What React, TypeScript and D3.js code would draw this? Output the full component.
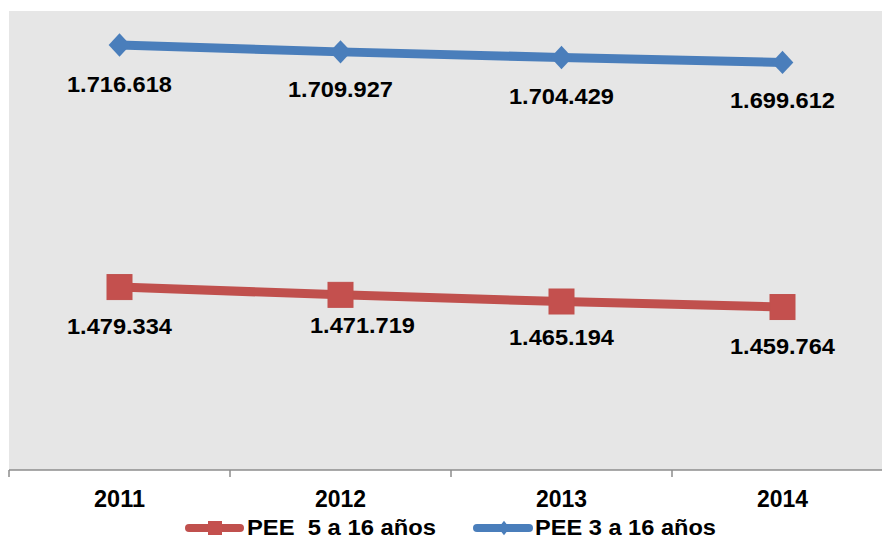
import React from "react";
import * as d3 from "d3";

const years = ["2011", "2012", "2013", "2014"];
const pee5a16 = [1479334, 1471719, 1465194, 1459764];
const pee3a16 = [1716618, 1709927, 1704429, 1699612];
const labels5a16 = ["1.479.334", "1.471.719", "1.465.194", "1.459.764"];
const labels3a16 = ["1.716.618", "1.709.927", "1.704.429", "1.699.612"];
const seriesNames = ["PEE  5 a 16 años", "PEE 3 a 16 años"];

const W = 882;
const H = 540;
const RED = "#C0504D";
const BLUE = "#4A7EBB";

export default function App() {
  const x = d3.scaleBand<string>().domain(years).range([9, 893]);
  const y = d3.scaleLinear().domain([1300000, 1750000]).range([470, 11]);
  const cx = (c: string) => (x(c) as number) + x.bandwidth() / 2;

  const line = d3
    .line<number>()
    .x((_, i) => cx(years[i]))
    .y((d) => y(d));

  // label nudges (Excel manual placement for one label)
  const redNudge = [
    [0, 47],
    [22, 38],
    [0, 43],
    [0, 47],
  ];
  const blueNudge = [
    [0, 47],
    [0, 45],
    [0, 47],
    [0, 46],
  ];

  const diamond = d3.symbol().type(d3.symbolDiamond2).size(300);
  const font = "'Liberation Sans', Arial, sans-serif";

  const ticks = [...years.map((c) => x(c) as number), 893];

  return (
    <svg
      width={W}
      height={H}
      style={{ position: "absolute", left: 0, top: 0 }}
      fontFamily={font}
    >
      <rect x={0} y={0} width={W} height={H} fill="#fff" />
      <rect x={9} y={11} width={893 - 9} height={470 - 11} fill="#E6E6E6" />

      {/* axis */}
      <line x1={9} x2={893} y1={470} y2={470} stroke="#8C8C8C" strokeWidth={1.5} />
      {ticks.map((t, i) => (
        <line key={i} x1={t} x2={t} y1={470} y2={477} stroke="#8C8C8C" strokeWidth={1.5} />
      ))}
      {years.map((c) => (
        <text
          key={c}
          x={cx(c)}
          y={507}
          textAnchor="middle"
          fontSize={23}
          fontWeight="bold"
          textLength={51}
          lengthAdjust="spacingAndGlyphs"
          fill="#000"
        >
          {c}
        </text>
      ))}

      {/* red series */}
      <path d={line(pee5a16) || ""} fill="none" stroke={RED} strokeWidth={9} />
      {pee5a16.map((v, i) => (
        <rect
          key={i}
          x={cx(years[i]) - 12.5}
          y={y(v) - 12.5}
          width={25}
          height={25}
          fill="#C4504E"
          stroke="#C0504D"
          strokeWidth={1}
        />
      ))}
      {/* blue series */}
      <path d={line(pee3a16) || ""} fill="none" stroke={BLUE} strokeWidth={9} />
      {pee3a16.map((v, i) => (
        <path
          key={i}
          d={diamond() || ""}
          transform={`translate(${cx(years[i])},${y(v)}) scale(1,1.08)`}
          fill={BLUE}
        />
      ))}

      {/* data labels */}
      {pee5a16.map((v, i) => (
        <text
          key={"r" + i}
          x={cx(years[i]) + redNudge[i][0]}
          y={y(v) + redNudge[i][1]}
          textAnchor="middle"
          fontSize={22.5}
          fontWeight="bold"
          textLength={105}
          lengthAdjust="spacingAndGlyphs"
          fill="#000"
        >
          {labels5a16[i]}
        </text>
      ))}
      {pee3a16.map((v, i) => (
        <text
          key={"b" + i}
          x={cx(years[i]) + blueNudge[i][0]}
          y={y(v) + blueNudge[i][1]}
          textAnchor="middle"
          fontSize={22.5}
          fontWeight="bold"
          textLength={105}
          lengthAdjust="spacingAndGlyphs"
          fill="#000"
        >
          {labels3a16[i]}
        </text>
      ))}

      {/* legend */}
      <g>
        <line x1={189} x2={240} y1={528} y2={528} stroke={RED} strokeWidth={8} strokeLinecap="round" />
        <rect x={208} y={521} width={14} height={14} fill="#C4504E" />
        <text
          x={247}
          y={535}
          fontSize={22}
          fontWeight="bold"
          textLength={189}
          lengthAdjust="spacingAndGlyphs"
          xmlSpace="preserve"
          style={{ whiteSpace: "pre" }}
        >
          {seriesNames[0]}
        </text>
        <line x1={477} x2={529} y1={528} y2={528} stroke={BLUE} strokeWidth={8} strokeLinecap="round" />
        <path d={d3.symbol().type(d3.symbolDiamond2).size(80)() || ""} transform="translate(504,528) scale(1,1.3)" fill={BLUE} />
        <text
          x={535}
          y={535}
          fontSize={22}
          fontWeight="bold"
          textLength={181}
          lengthAdjust="spacingAndGlyphs"
        >
          {seriesNames[1]}
        </text>
      </g>
    </svg>
  );
}
